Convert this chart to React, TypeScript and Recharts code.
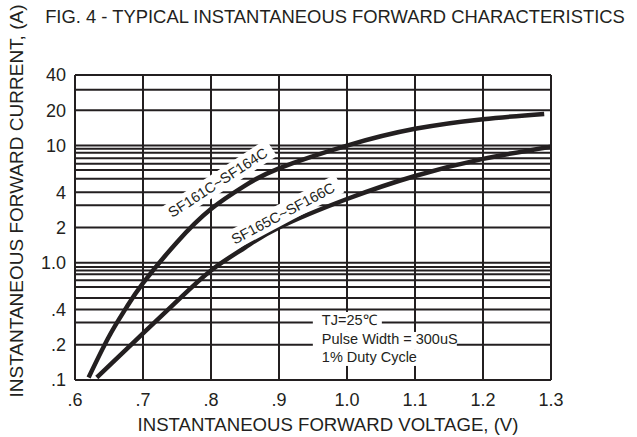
import React from 'react'
import {
  LineChart, Line, XAxis, YAxis, ReferenceLine, ReferenceDot,
} from 'recharts'

// ─── data ───────────────────────────────────────────────────────────
const voltageTicks = [0.6, 0.7, 0.8, 0.9, 1.0, 1.1, 1.2, 1.3]
const currentTicks = [0.1, 0.2, 0.4, 1, 2, 4, 10, 20, 40]
const currentTickLabels = ['.1', '.2', '.4', '1.0', '2', '4', '10', '20', '40']

// the printed grid is hand drawn, so the lines are not exactly 1..9
const gridVoltages = [0.7, 0.8, 0.9, 1.0, 1.1, 1.2, 1.3]
const gridCurrents = [
  0.2, 0.31, 0.4, 0.5, 0.62, 0.71, 0.8, 0.86, 0.92, 1,
  2, 3.1, 4, 5.2, 6.2, 7, 7.8, 8.7, 9.4, 10, 20, 30, 40,
]

const sf161Voltage = [0.62, 0.65, 0.675, 0.7, 0.75, 0.8, 0.85, 0.9, 1.0, 1.1, 1.2, 1.29]
const sf161Current = [0.105, 0.235, 0.41, 0.67, 1.5, 2.88, 4.56, 6.4, 10.0, 13.9, 16.8, 18.6]

const sf165Voltage = [0.632, 0.65, 0.7, 0.75, 0.8, 0.85, 0.9, 1.0, 1.1, 1.2, 1.3]
const sf165Current = [0.105, 0.132, 0.25, 0.47, 0.86, 1.35, 2.0, 3.5, 5.5, 7.7, 9.8]

const sf161Data = sf161Voltage.map((v, k) => ({ v, i: sf161Current[k] }))
const sf165Data = sf165Voltage.map((v, k) => ({ v, i: sf165Current[k] }))

const INK = '#231f20'

const fmtVoltage = (v: number) => (v < 1 ? `.${Math.round(v * 10)}` : v.toFixed(1))
const fmtCurrent = (v: number) => currentTickLabels[currentTicks.indexOf(v)] ?? String(v)

// rotated curve name with a white band that knocks the grid out behind it
function CurveLabel({ cx, cy, text, angle }: any) {
  return (
    <g transform={`rotate(${angle}, ${cx}, ${cy})`}>
      <rect x={cx - 64} y={cy - 10} width={128} height={20} fill="#fff" />
      <text x={cx} y={cy} textAnchor="middle" dominantBaseline="central" fontSize={14.5} fill={INK}>
        {text}
      </text>
    </g>
  )
}

function TestConditions({ cx, cy }: any) {
  return (
    <g>
      <rect x={cx - 9} y={cy - 27} width={69} height={20} fill="#fff" />
      <rect x={cx - 9} y={cy - 7} width={144} height={18} fill="#fff" />
      <rect x={cx - 9} y={cy + 11} width={105} height={16} fill="#fff" />
      <g fontSize={14.5} fill={INK}>
        <text x={cx} y={cy - 19} dominantBaseline="central">TJ=25℃</text>
        <text x={cx} y={cy} dominantBaseline="central">Pulse Width = 300uS</text>
        <text x={cx} y={cy + 18} dominantBaseline="central">1% Duty Cycle</text>
      </g>
    </g>
  )
}

export default function App() {
  return (
    <div style={{ position: 'absolute', left: 0, top: 0, fontFamily: '"Liberation Sans", Arial, sans-serif' }}>
      <LineChart width={637} height={437} margin={{ top: 75, right: 86, left: 0, bottom: 0 }}>
        <XAxis
          type="number"
          dataKey="v"
          domain={[0.6, 1.3]}
          ticks={voltageTicks}
          tickFormatter={fmtVoltage}
          tick={{ fontSize: 18, fill: INK }}
          tickSize={0}
          tickMargin={13}
          height={57}
          axisLine={{ stroke: INK, strokeWidth: 2 }}
          allowDataOverflow
        />
        <YAxis
          type="number"
          scale="log"
          domain={[0.1, 40]}
          ticks={currentTicks}
          tickFormatter={fmtCurrent}
          tick={{ fontSize: 18, fill: INK }}
          tickSize={0}
          tickMargin={9}
          width={75}
          axisLine={{ stroke: INK, strokeWidth: 2 }}
          allowDataOverflow
        />

        {gridCurrents.map((c) => (
          <ReferenceLine key={`h${c}`} y={c} stroke={INK} strokeWidth={2} />
        ))}
        {gridVoltages.map((v) => (
          <ReferenceLine key={`v${v}`} x={v} stroke={INK} strokeWidth={2} />
        ))}

        <ReferenceDot x={0.81} y={4.84} r={0}
          shape={(p: any) => <CurveLabel {...p} text="SF161C~SF164C" angle={-33} />} />
        <ReferenceDot x={0.906} y={2.64} r={0}
          shape={(p: any) => <CurveLabel {...p} text="SF165C~SF166C" angle={-28} />} />
        <ReferenceDot x={0.963} y={0.224} r={0} shape={(p: any) => <TestConditions {...p} />} />

        <Line data={sf161Data} dataKey="i" type="natural" stroke={INK} strokeWidth={4.5}
          dot={false} activeDot={false} isAnimationActive={false} />
        <Line data={sf165Data} dataKey="i" type="natural" stroke={INK} strokeWidth={4.5}
          dot={false} activeDot={false} isAnimationActive={false} />

        <text x={335} y={16} textAnchor="middle" dominantBaseline="central" fontSize={18.4} fill={INK}>
          FIG. 4 - TYPICAL INSTANTANEOUS FORWARD CHARACTERISTICS
        </text>
        <text x={328} y={424} textAnchor="middle" dominantBaseline="central" fontSize={18.6} fill={INK}>
          INSTANTANEOUS FORWARD VOLTAGE, (V)
        </text>
        <text x={16} y={201} transform="rotate(-90, 16, 201)" textAnchor="middle"
          dominantBaseline="central" fontSize={19} fill={INK}>
          INSTANTANEOUS FORWARD CURRENT, (A)
        </text>
      </LineChart>
    </div>
  )
}
